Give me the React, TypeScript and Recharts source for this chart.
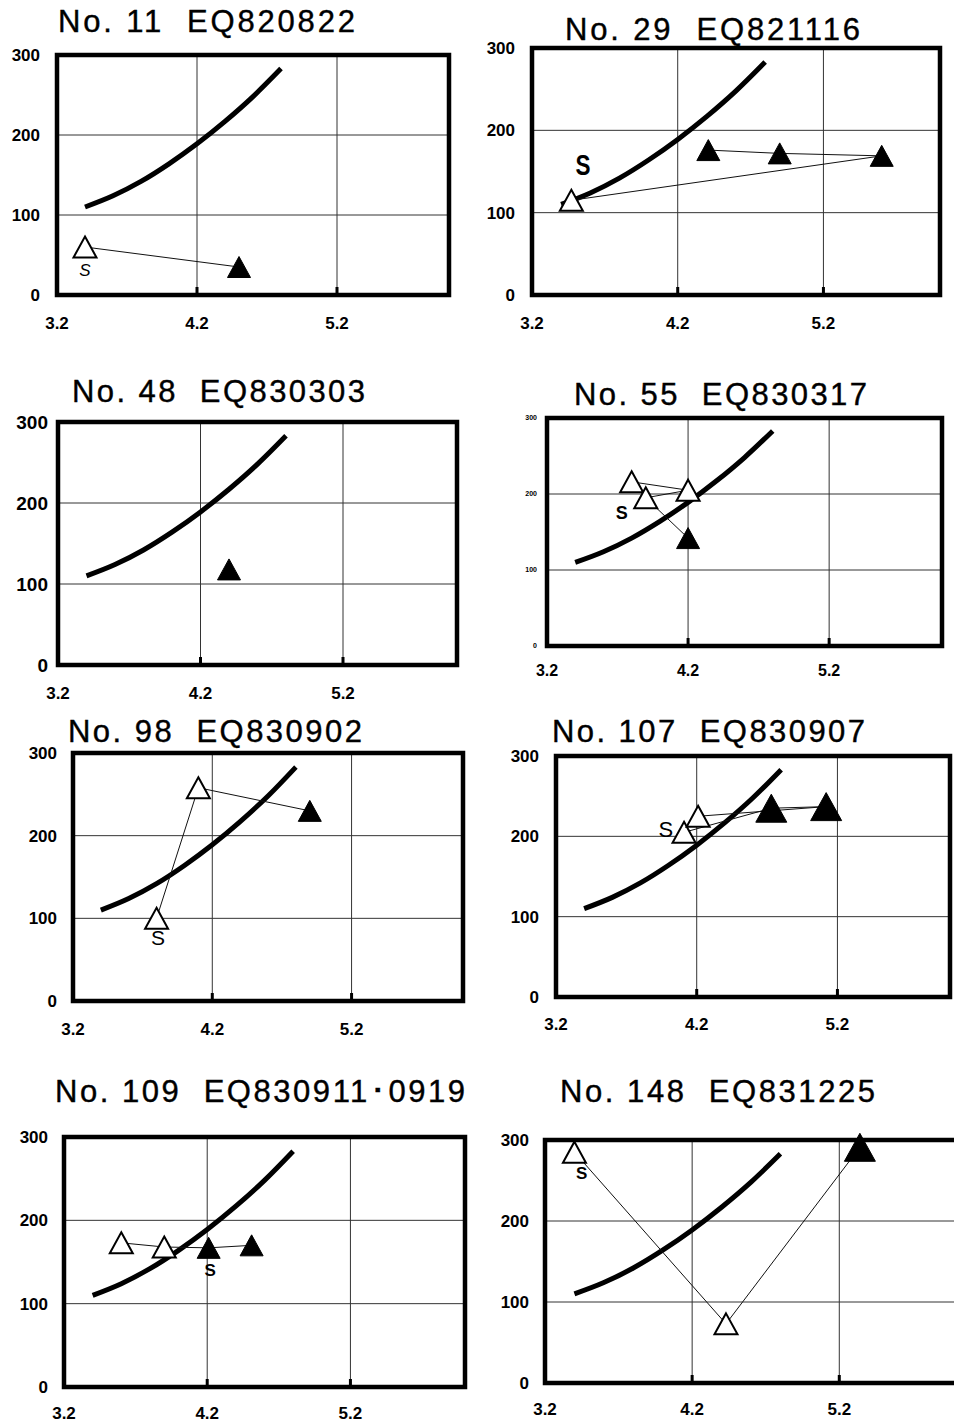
import React from 'react';
import { ScatterChart, Scatter, XAxis, YAxis, CartesianGrid, ReferenceArea } from 'recharts';

type Kind = 'open' | 'filled';
type Pt = [number, number, Kind];

const xTicks = [3.2, 4.2, 5.2];
const yTicks = [0, 100, 200, 300];

// reference curve (identical in every panel)
const curveX = [3.4, 3.6, 3.8, 4.0, 4.2, 4.4, 4.6, 4.8];
const curveY = [110, 124, 142, 164, 189, 217, 248, 283];

const titles = [
  'No. 11  EQ820822',
  'No. 29  EQ821116',
  'No. 48  EQ830303',
  'No. 55  EQ830317',
  'No. 98  EQ830902',
  'No. 107  EQ830907',
  'No. 109  EQ830911･0919',
  'No. 148  EQ831225',
];

// observed points, in the order they are joined
const eq11: Pt[] = [[3.4, 60, 'open'], [4.5, 35, 'filled']];
const eq29: Pt[] = [[3.47, 115, 'open'], [5.6, 169, 'filled'], [4.9, 172, 'filled'], [4.41, 176, 'filled']];
const eq48: Pt[] = [[4.4, 118, 'filled']];
const eq55: Pt[] = [[3.8, 216, 'open'], [4.2, 205, 'open'], [3.9, 195, 'open'], [4.2, 142, 'filled']];
const eq98: Pt[] = [[3.8, 100, 'open'], [4.1, 258, 'open'], [4.9, 230, 'filled']];
const eq107: Pt[] = [[4.11, 205, 'open'], [4.73, 235, 'filled'], [5.12, 237, 'filled'], [4.21, 225, 'open']];
const eq109: Pt[] = [[3.6, 173, 'open'], [3.9, 168, 'open'], [4.21, 167, 'filled'], [4.51, 170, 'filled']];
const eq148: Pt[] = [[3.4, 285, 'open'], [4.43, 73, 'open'], [5.34, 291, 'filled']];

// where the "S" mark sits
const sMarks: ([number, number] | null)[] = [
  [3.4, 31], [3.55, 158], null, [3.73, 175], [3.81, 77], [3.98, 208], [4.22, 140], [3.45, 259],
];

const pointSets = [eq11, eq29, eq48, eq55, eq98, eq107, eq109, eq148];

// page layout of each panel (plot box edges in px)
const layout = [
  { L: 57, T: 55, R: 449, B: 295, yFont: 17, yGap: 17, xFont: 17, xGap: 22, sFont: 17, sWeight: 'normal', sItalic: true, big: [] as number[], tx: 58, ty: 32, tw: 297 },
  { L: 532, T: 48, R: 940, B: 295, yFont: 17, yGap: 17, xFont: 17, xGap: 22, sFont: 29, sWeight: 'bold', sNarrow: 15, big: [], tx: 565, ty: 40, tw: 295 },
  { L: 58, T: 422, R: 457, B: 665, yFont: 19, yGap: 10, xFont: 17, xGap: 22, sFont: 17, sWeight: 'bold', big: [], tx: 72, ty: 402, tw: 293 },
  { L: 547, T: 418, R: 942, B: 646, yFont: 7, yGap: 10, xFont: 16, xGap: 19, sFont: 18, sWeight: 'bold', big: [], tx: 574, ty: 405, tw: 293 },
  { L: 73, T: 753, R: 463, B: 1001, yFont: 17, yGap: 16, xFont: 17, xGap: 22, sFont: 21, sWeight: 'normal', big: [], tx: 68, ty: 742, tw: 294 },
  { L: 556, T: 756, R: 950, B: 997, yFont: 17, yGap: 17, xFont: 17, xGap: 21, sFont: 22, sWeight: 'normal', big: [1, 2], tx: 552, ty: 742, tw: 313 },
  { L: 64, T: 1137, R: 465, B: 1387, yFont: 17, yGap: 16, xFont: 17, xGap: 20, sFont: 17, sWeight: 'bold', big: [], tx: 55, ty: 1102, tw: 410 },
  { L: 545, T: 1140, R: 957, B: 1383, yFont: 17, yGap: 16, xFont: 17, xGap: 20, sFont: 17, sWeight: 'bold', big: [2], tx: 560, ty: 1102, tw: 315 },
];

const FONT = "'Liberation Sans', Arial, sans-serif";

function Tri(props: any) {
  const { cx, cy, payload } = props;
  if (cx == null || cy == null) return <g />;
  const w = payload.big ? 31 : 23;
  const h = payload.big ? 28 : 21;
  const filled = payload.kind === 'filled';
  const pts = `${cx},${cy - h / 2} ${cx + w / 2},${cy + h / 2} ${cx - w / 2},${cy + h / 2}`;
  return (
    <polygon
      points={pts}
      fill={filled ? '#000' : '#fff'}
      stroke="#000"
      strokeWidth={filled ? 1 : 2}
      strokeLinejoin="miter"
    />
  );
}

function XTick(props: any) {
  const { x, y, payload, gap, fontSize } = props;
  const v = payload.value as number;
  return (
    <g>
      {v > 3.25 && <rect x={x - 1.5} y={y - gap - 8} width={3} height={8} fill="#000" />}
      <text x={x} y={y} dy="0.71em" textAnchor="middle" fontSize={fontSize} fontWeight="bold" fontFamily={FONT} fill="#000">
        {v.toFixed(1)}
      </text>
    </g>
  );
}

function Panel({ idx }: { idx: number }) {
  const c: any = layout[idx];
  const padL = 60, padR = 14, padT = 22, padB = 50;
  const w = c.R - c.L + padL + padR;
  const h = c.B - c.T + padT + padB;
  const curve = curveX.map((x, i) => ({ x, y: curveY[i] }));
  const pts = pointSets[idx].map(([x, y, kind], i) => ({ x, y, kind, big: c.big.includes(i) }));
  const s = sMarks[idx];
  return (
    <div style={{ position: 'absolute', left: c.L - padL, top: c.T - padT }}>
      <ScatterChart width={w} height={h} margin={{ top: padT, right: padR, left: 0, bottom: 0 }}>
        <CartesianGrid stroke="#333" strokeWidth={1} />
        <XAxis
          type="number"
          dataKey="x"
          domain={[3.2, 6.0]}
          ticks={xTicks}
          interval={0}
          height={padB}
          tickSize={0}
          tickMargin={c.xGap}
          axisLine={false}
          tickLine={false}
          tick={<XTick gap={c.xGap} fontSize={c.xFont} />}
        />
        <YAxis
          type="number"
          dataKey="y"
          domain={[0, 300]}
          ticks={yTicks}
          interval={0}
          width={padL}
          tickSize={0}
          tickMargin={c.yGap}
          axisLine={false}
          tickLine={false}
          tick={{ fontSize: c.yFont, fontWeight: 'bold', fontFamily: FONT, fill: '#000' }}
        />
        <ReferenceArea x1={3.2} x2={6.0} y1={0} y2={300} fill="none" fillOpacity={0} stroke="#000" strokeWidth={4.5} strokeOpacity={1} />
        <Scatter
          data={curve}
          line={{ stroke: '#000', strokeWidth: 5 }}
          lineJointType="monotoneX"
          shape={() => <g />}
          isAnimationActive={false}
        />
        <Scatter
          data={pts}
          line={{ stroke: '#111', strokeWidth: 1 }}
          shape={(p: any) => <Tri {...p} />}
          isAnimationActive={false}
        />
        {s && (
          <Scatter
            data={[{ x: s[0], y: s[1] }]}
            isAnimationActive={false}
            shape={(p: any) => (
              <text
                x={p.cx}
                y={p.cy}
                textAnchor="middle"
                dominantBaseline="central"
                fontSize={c.sFont}
                fontWeight={c.sWeight}
                fontStyle={c.sItalic ? 'italic' : 'normal'}
                fontFamily={FONT}
                fill="#000"
                {...(c.sNarrow ? { textLength: c.sNarrow, lengthAdjust: 'spacingAndGlyphs' } : {})}
              >
                S
              </text>
            )}
          />
        )}
      </ScatterChart>
    </div>
  );
}

export default function App() {
  return (
    <div style={{ position: 'absolute', left: 0, top: 0, width: 954, height: 1427, overflow: 'hidden', background: '#fff' }}>
      {layout.map((_, i) => (
        <Panel key={i} idx={i} />
      ))}
      <svg width={954} height={1427} style={{ position: 'absolute', left: 0, top: 0, pointerEvents: 'none' }}>
        {layout.map((c, i) => (
          <text
            key={i}
            x={c.tx}
            y={c.ty}
            fontSize={31}
            fontFamily={FONT}
            fill="#000"
            stroke="#000"
            strokeWidth={0.4}
            textLength={c.tw}
            lengthAdjust="spacing"
            style={{ whiteSpace: 'pre' }}
          >
            {titles[i]}
          </text>
        ))}
      </svg>
    </div>
  );
}
